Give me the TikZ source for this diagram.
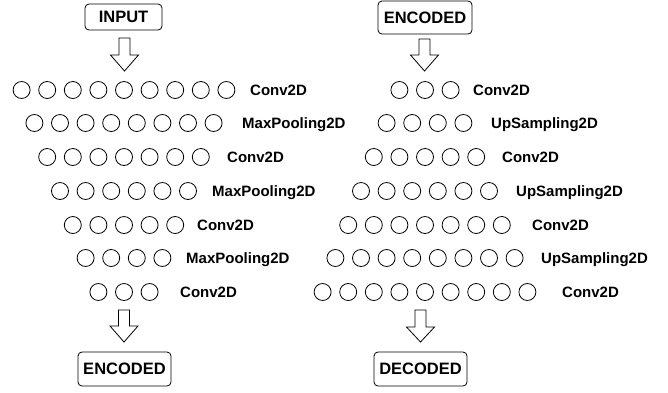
\documentclass[tikz,border=0pt]{standalone}
\usepackage{fontspec}
\setmainfont{Liberation Sans}
\newcommand\blockarr[4]{%
  \draw[blockarrow] (#1-5.5,#2) -- (#1+5.5,#2) -- (#1+5.5,#3) -- (#1+14,#3) -- (#1,#4) -- (#1-14,#3) -- (#1-5.5,#3) -- cycle;}
\begin{document}
\begin{tikzpicture}[x=1pt,y=-1pt,
  neuron/.style={circle,draw,line width=0.8pt,minimum size=17pt,inner sep=0pt},
  layerlabel/.style={anchor=base west,font=\fontsize{15}{15}\selectfont\bfseries,inner sep=0pt},
  databox/.style={draw,rounded corners=4pt,line width=0.8pt,font=\fontsize{16.5}{16.5}\selectfont\bfseries,inner sep=0pt,align=center},
  blockarrow/.style={draw,fill=white,line width=0.8pt,line join=miter}]
\useasboundingbox (0,0) rectangle (668,392);
% encoder
\foreach \n/\y/\lx/\t [count=\r] in {9/90/250/Conv2D,8/123/242/MaxPooling2D,7/157/227/Conv2D,6/191/212/MaxPooling2D,5/225/197/Conv2D,4/258/186/MaxPooling2D,3/292/180/Conv2D}{
  \foreach \k in {1,...,\n}{\node[neuron] (L\r-\k) at ({124+25.6*(\k-(\n+1)/2)},\y) {};}
  \node[layerlabel] (LL\r) at (\lx,\y+5.4) {\t};
}
% decoder
\foreach \n/\y/\lx/\t [count=\r] in {3/90/473/Conv2D,4/123/491/UpSampling2D,5/157/502/Conv2D,6/191/516/UpSampling2D,7/225/532/Conv2D,8/258/541/UpSampling2D,9/292/562/Conv2D}{
  \foreach \k in {1,...,\n}{\node[neuron] (R\r-\k) at ({425+25.6*(\k-(\n+1)/2)},\y) {};}
  \node[layerlabel] (RL\r) at (\lx,\y+5.4) {\t};
}
\node[databox,minimum width=77pt,minimum height=26pt] (input) at (123.5,17) {INPUT};
\node[databox,minimum width=94pt,minimum height=33pt] (enctop) at (425,17.5) {ENCODED};
\node[databox,minimum width=93pt,minimum height=34pt] (encbot) at (124.5,369) {ENCODED};
\node[databox,minimum width=93pt,minimum height=34pt] (decoded) at (420.5,369) {DECODED};
\blockarr{124.5}{38}{55}{71}
\blockarr{424.5}{39}{55}{71}
\blockarr{124}{310}{326}{342}
\blockarr{420.5}{310}{327}{342}
\end{tikzpicture}
\end{document}
